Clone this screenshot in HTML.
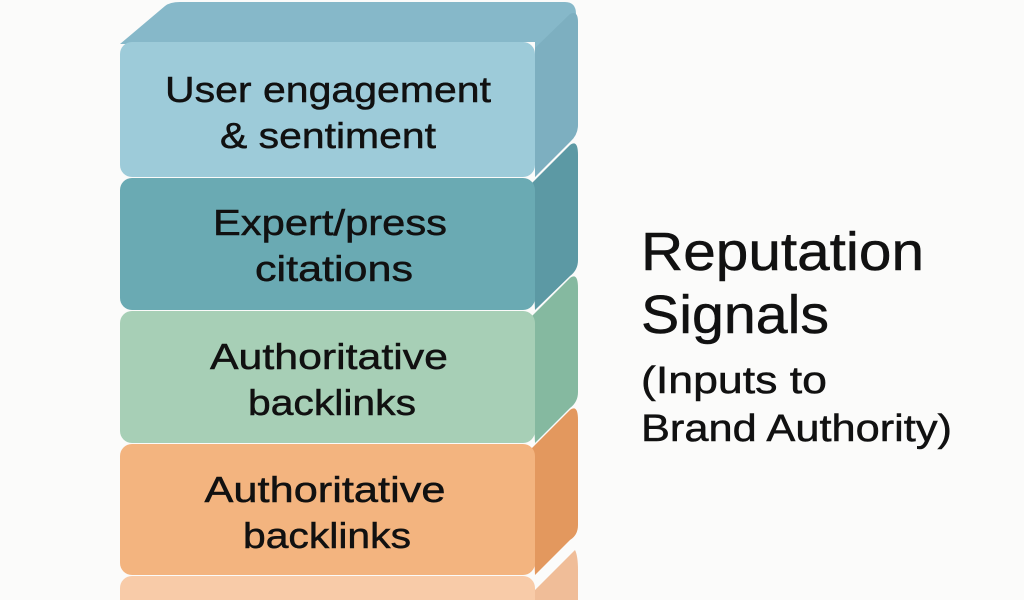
<!DOCTYPE html>
<html><head><style>
html,body{margin:0;padding:0;background:#fbfbfa;width:1024px;height:600px;overflow:hidden;}
svg{display:block;}
text{font-family:"Liberation Sans",sans-serif;fill:#111;stroke:#111;stroke-width:0.5;}
</style></head><body>
<svg width="1024" height="600" viewBox="0 0 1024 600">
<rect width="1024" height="600" fill="#fbfbfa"/>
<path d="M535,590 L575,550 Q578,556 578,570 L578,600 L535,600 Z" fill="#f0bd98"/>
<rect x="120" y="576" width="415" height="40" rx="12" fill="#f8cba8"/>
<path d="M530,450 L570,410 Q578,404 578,420 L578,525 Q578,535 570,540 L535,575 Z" fill="#e3985e"/>
<rect x="120" y="444" width="415" height="131" rx="12" fill="#f3b47f"/>
<path d="M530,318 L570,278 Q578,272 578,288 L578,392 Q578,402 570,408 L535,443 Z" fill="#85b9a0"/>
<rect x="120" y="311" width="415" height="132" rx="12" fill="#a7cfb6"/>
<path d="M530,185 L570,145 Q578,139 578,155 L578,260 Q578,270 570,276 L535,310 Z" fill="#5c99a4"/>
<rect x="120" y="178" width="415" height="132" rx="12" fill="#6aaab3"/>
<path d="M120,44 L165,6 Q170,2 180,2 L565,2 Q576,2 576,14 L576,125 Q576,135 568,142 L535,177 L535,42 Z" fill="#86b8c9"/>
<path d="M535,48 L570,14 Q578,10 578,22 L578,125 Q578,135 570,142 L535,177 Z" fill="#7dafc0"/>
<rect x="120" y="42" width="415" height="135" rx="12" fill="#9dcbd9"/>
<g font-size="36" text-anchor="middle">
<text x="328" y="102" textLength="326" lengthAdjust="spacingAndGlyphs">User engagement</text>
<text x="328" y="148" textLength="216" lengthAdjust="spacingAndGlyphs">&amp; sentiment</text>
<text x="330" y="235" textLength="234" lengthAdjust="spacingAndGlyphs">Expert/press</text>
<text x="334" y="281" textLength="158" lengthAdjust="spacingAndGlyphs">citations</text>
<text x="329" y="369" textLength="238" lengthAdjust="spacingAndGlyphs">Authoritative</text>
<text x="332" y="415" textLength="168" lengthAdjust="spacingAndGlyphs">backlinks</text>
<text x="325" y="502" textLength="241" lengthAdjust="spacingAndGlyphs">Authoritative</text>
<text x="327" y="548" textLength="168" lengthAdjust="spacingAndGlyphs">backlinks</text>
</g>
<text x="641" y="270" font-size="54" textLength="283" lengthAdjust="spacingAndGlyphs">Reputation</text>
<text x="641" y="333" font-size="54" textLength="188" lengthAdjust="spacingAndGlyphs">Signals</text>
<text x="641" y="393" font-size="38" textLength="186" lengthAdjust="spacingAndGlyphs">(Inputs to</text>
<text x="641" y="441" font-size="38" textLength="311" lengthAdjust="spacingAndGlyphs">Brand Authority)</text>
</svg>
</body></html>
